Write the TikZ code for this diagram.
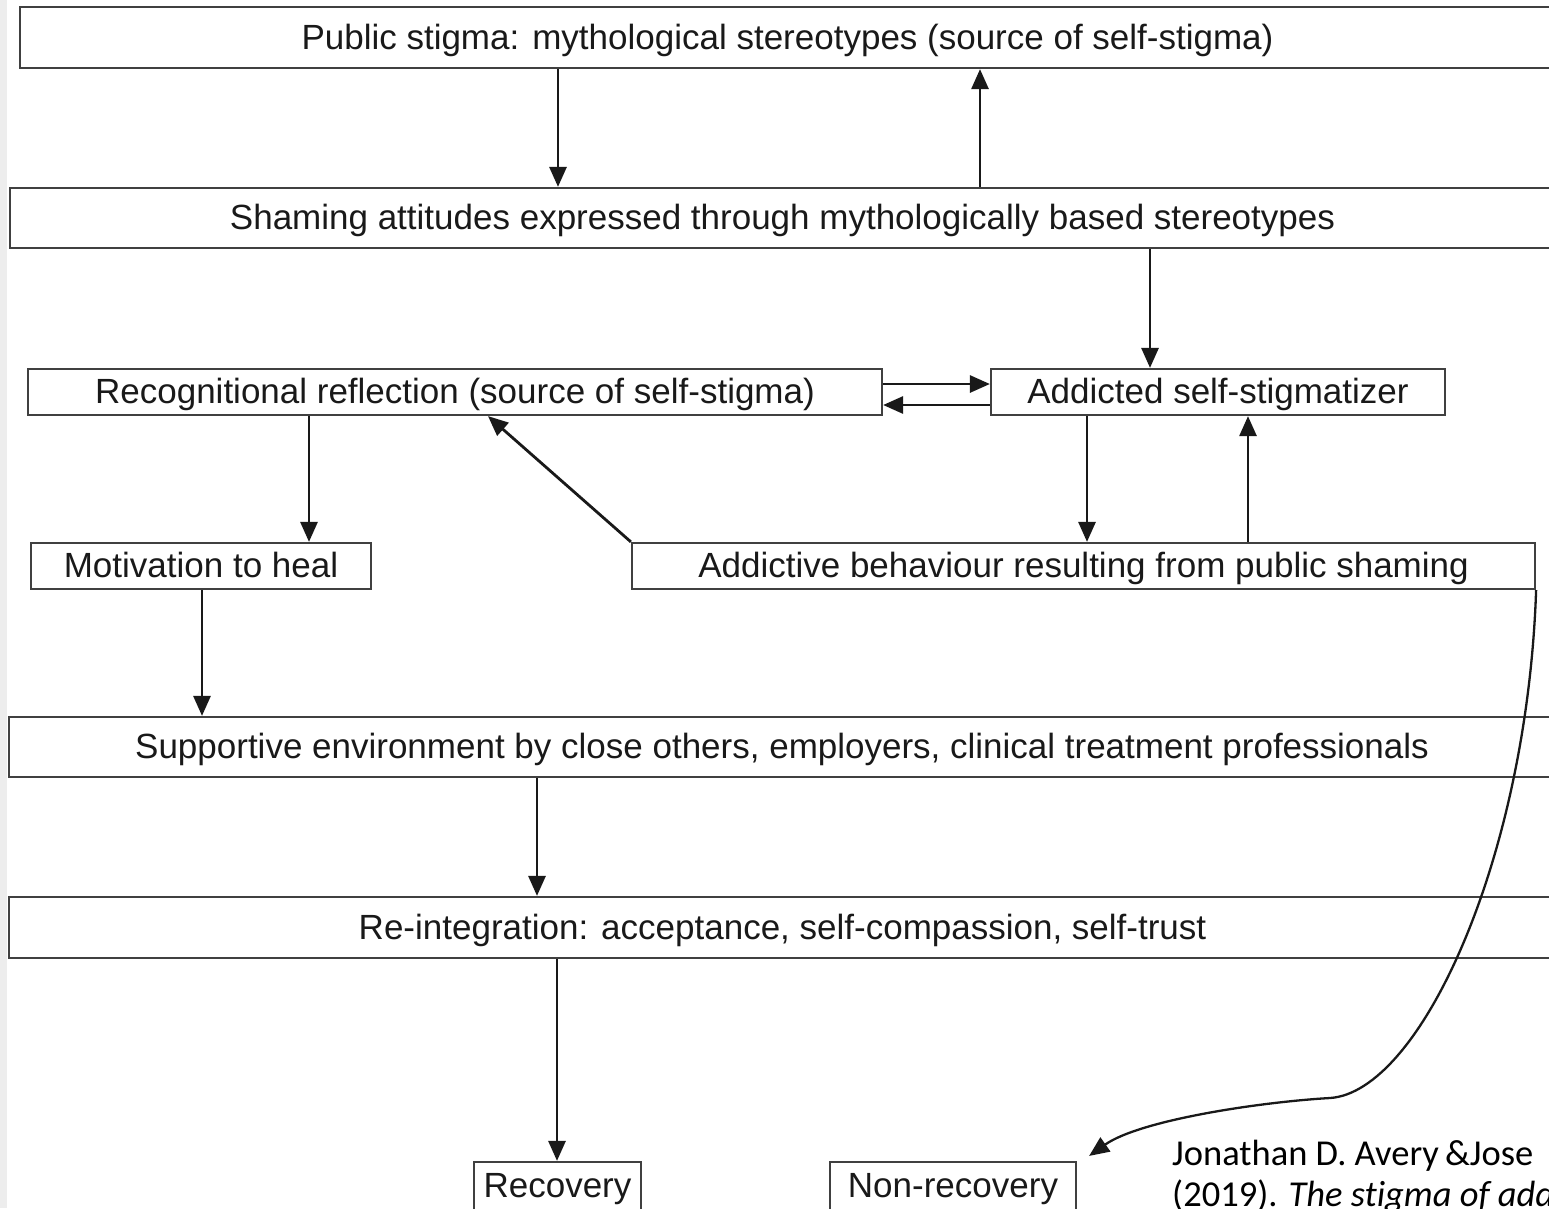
\documentclass[tikz,border=0pt]{standalone}
\usepackage{fontspec}
\setmainfont{Liberation Sans}
\newfontfamily\citefont[Ligatures=NoCommon]{Carlito}
\usetikzlibrary{arrows.meta}
\begin{document}
\begin{tikzpicture}[x=1pt,y=-1pt,
  box/.style={draw=black!75,line width=2.2pt,inner sep=0pt,text=black!90,text height=25pt,text depth=2pt,font=\fontsize{35}{42}\selectfont},
  arr/.style={line width=2.8pt,draw=black!90,-{Triangle[length=20pt,width=17pt]}},
  cite/.style={anchor=base west,inner sep=0pt,font=\citefont\fontsize{36.5}{42}\selectfont}]
\useasboundingbox (0,0) rectangle (1549,1208);
\clip (0,0) rectangle (1549,1208);
\fill[black!7] (0,0) rectangle (7,1208);
% boxes
\node[box,minimum width=1535,minimum height=61] (pub) at (787.5,37.5) {Public stigma: mythological stereotypes (source of self-stigma)};
\node[box,minimum width=1545,minimum height=60] (sham) at (782.5,218) {Shaming attitudes expressed through mythologically based stereotypes};
\node[box,minimum width=854,minimum height=46] (recog) at (455,392) {Recognitional reflection (source of self-stigma)};
\node[box,minimum width=454,minimum height=46] (addict) at (1218,392) {Addicted self-stigmatizer};
\node[box,minimum width=340,minimum height=46] (motiv) at (201,566) {Motivation to heal};
\node[box,minimum width=903,minimum height=46] (behav) at (1083.5,566) {Addictive behaviour resulting from public shaming};
\node[box,minimum width=1546,minimum height=60] (supp) at (782,747) {Supportive environment by close others, employers, clinical treatment professionals};
\node[box,minimum width=1547,minimum height=61] (reint) at (782.5,927.5) {Re-integration: acceptance, self-compassion, self-trust};
\node[box,minimum width=167,minimum height=48] (recov) at (557.5,1186) {Recovery};
\node[box,minimum width=246,minimum height=48] (nonrec) at (953,1186) {Non-recovery};
% arrows
\draw[arr] (558,0 |- pub.south) -- (558,0 |- sham.north);
\draw[arr] (980,0 |- sham.north) -- (980,0 |- pub.south);
\draw[arr] (1150,0 |- sham.south) -- (1150,0 |- addict.north);
\draw[arr] (recog.east |- 0,384) -- (addict.west |- 0,384);
\draw[arr] (addict.west |- 0,405) -- (recog.east |- 0,405);
\draw[arr] (309,0 |- recog.south) -- (309,0 |- motiv.north);
\draw[arr] (1087,0 |- addict.south) -- (1087,0 |- behav.north);
\draw[arr] (1248,0 |- behav.north) -- (1248,0 |- addict.south);
\draw[arr] (behav.north west) -- (488,0 |- recog.south);
\draw[arr] (202,0 |- motiv.south) -- (202,0 |- supp.north);
\draw[arr] (537,0 |- supp.south) -- (537,0 |- reint.north);
\draw[arr] (557,0 |- reint.south) -- (557,0 |- recov.north);
\coordinate (bend) at (1330,1098);
\draw[arr,line width=2.3pt] (behav.south east) .. controls (1527,860) and (1420,1092) .. (bend)
  .. controls (1260,1102) and (1140,1120) .. ([shift={(12,-5)}]nonrec.north east);
% source
\node[cite] (cite1) at (1172,1165) {Jonathan D. Avery\,\&Jose};
\node[cite] (cite2) at (1172,1206) {(2019). \textit{The stigma of add}};
\end{tikzpicture}
\end{document}
